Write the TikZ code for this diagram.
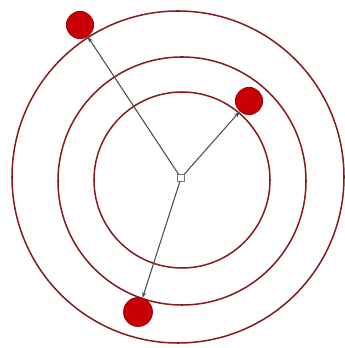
\documentclass[tikz,border=0pt]{standalone}
\usetikzlibrary{arrows.meta}
\definecolor{orbitred}{RGB}{135,28,32}
\definecolor{ballred}{RGB}{200,0,5}
\begin{document}
\begin{tikzpicture}[x=0.03cm, y=0.03cm, line cap=round, line join=round,
    orbit/.style={draw=orbitred, line width=1.3pt},
    ball/.style={circle, fill=ballred, draw=ballred!75!black, line width=0.6pt, minimum size=0.82cm, inner sep=0pt},
    ray/.style={-{Stealth[length=5pt, width=3.5pt]}, draw=black!70, line width=0.9pt}]

\useasboundingbox (0,0) rectangle (344,348);

% Orbite
\coordinate (O) at (181,170);
\draw[orbit] (182,168) circle (88);
\draw[orbit] (182,167) circle (124);
\draw[orbit] (178,171) circle (166);

% Centro
\node[draw=black!55, fill=white, line width=0.7pt, minimum size=6pt, inner sep=0pt] (hub) at (O) {};

% Sfere
\node[ball] (b1) at (80,323) {};
\node[ball] (b2) at (249,247) {};
\node[ball, minimum size=0.87cm] (b3) at (138,36) {};

% Raggi
\draw[ray] (hub) -- (b1);
\draw[ray] (hub) -- (b2);
\draw[ray] (hub) -- (b3);

\end{tikzpicture}
\end{document}
